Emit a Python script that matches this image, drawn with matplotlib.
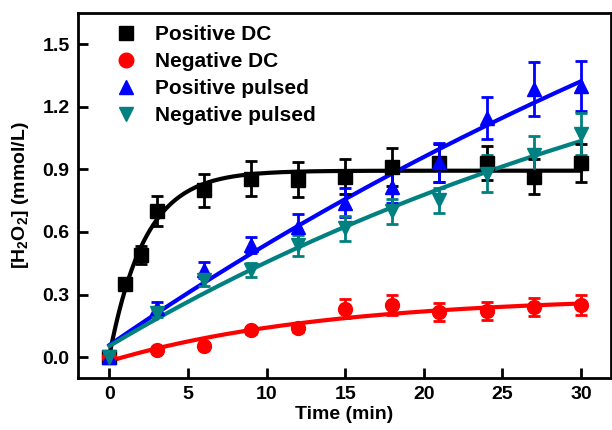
import numpy as np
import matplotlib
matplotlib.use('Agg')
import matplotlib.pyplot as plt
from matplotlib.lines import Line2D

plt.rcParams['font.family'] = ['Liberation Sans', 'DejaVu Sans']
plt.rcParams['font.weight'] = 'bold'
plt.rcParams['mathtext.fontset'] = 'custom'
plt.rcParams['mathtext.bf'] = 'Liberation Sans:bold'
plt.rcParams['mathtext.rm'] = 'Liberation Sans:bold'

# Data
# ------------------------------------------------------------------

t_dc_pos = [0, 1, 2, 3, 6, 9, 12, 15, 18, 21, 24, 27, 30]
pos_dc = [0.0, 0.35, 0.49, 0.70, 0.80, 0.855, 0.85, 0.865, 0.91, 0.93, 0.93, 0.865, 0.93]
pos_dc_err = [0.01, 0.02, 0.045, 0.07, 0.08, 0.085, 0.083, 0.085, 0.09, 0.09, 0.08, 0.085, 0.09]

t = [0, 3, 6, 9, 12, 15, 18, 21, 24, 27, 30]
neg_dc = [0.0, 0.035, 0.052, 0.128, 0.141, 0.233, 0.25, 0.216, 0.221, 0.24, 0.249]
neg_dc_err = [0.01, 0.01, 0.01, 0.015, 0.02, 0.045, 0.048, 0.045, 0.045, 0.045, 0.047]

pos_pul = [0.0, 0.234, 0.417, 0.537, 0.625, 0.74, 0.817, 0.933, 1.146, 1.286, 1.30]
pos_pul_err = [0.01, 0.03, 0.04, 0.04, 0.06, 0.07, 0.08, 0.095, 0.1, 0.128, 0.12]

neg_pul = [0.0, 0.21, 0.37, 0.417, 0.537, 0.617, 0.70, 0.753, 0.88, 0.97, 1.07]
neg_pul_err = [0.01, 0.02, 0.03, 0.035, 0.05, 0.06, 0.06, 0.06, 0.09, 0.09, 0.1]


def fit_exp(x, y):
    # y = c + a*(1 - exp(-k x)), grid search on k, least squares on a, c
    x = np.asarray(x, float)
    y = np.asarray(y, float)
    best = None
    for k in np.logspace(-3, 1, 2000):
        A = np.column_stack([np.ones_like(x), 1 - np.exp(-k * x)])
        coef, res, _, _ = np.linalg.lstsq(A, y, rcond=None)
        err = np.sum((A @ coef - y) ** 2)
        if best is None or err < best[0]:
            best = (err, k, coef)
    _, k, (c, a) = best
    return lambda xx: c + a * (1 - np.exp(-k * xx))


# Plot
# ------------------------------------------------------------------

fig = plt.figure(figsize=(6.12, 4.30), dpi=100)
ax = fig.add_axes([0.1275, 0.121, 0.8705, 0.849])

xs = np.linspace(0, 30, 300)
series = [
    (t_dc_pos, pos_dc, pos_dc_err, 'black', 's', 'Positive DC'),
    (t, neg_dc, neg_dc_err, 'red', 'o', 'Negative DC'),
    (t, pos_pul, pos_pul_err, 'blue', '^', 'Positive pulsed'),
    (t, neg_pul, neg_pul_err, '#008080', 'v', 'Negative pulsed'),
]

handles = []
for x, y, e, c, m, lab in series:
    ax.errorbar(x, y, yerr=e, fmt=m, color=c, ms=10, capsize=4,
                elinewidth=2, capthick=2, zorder=3)
    f = fit_exp(x, y)
    ax.plot(xs, f(xs), color=c, lw=3, zorder=2)
    handles.append(Line2D([], [], ls='none', marker=m, color=c, ms=10.5, label=lab))

ax.legend(handles=handles, loc='upper left', bbox_to_anchor=(0.039, 1.006),
          frameon=False, fontsize=15, handletextpad=0.8, labelspacing=0.38,
          borderaxespad=0.3, handlelength=1.2)

ax.set_xlim(-2, 31.9)
ax.set_ylim(-0.1, 1.65)
ax.set_xticks([0, 5, 10, 15, 20, 25, 30])
ax.set_yticks([0.0, 0.3, 0.6, 0.9, 1.2, 1.5])
ax.set_yticklabels(['0.0', '0.3', '0.6', '0.9', '1.2', '1.5'])
ax.tick_params(direction='in', length=7, width=2, labelsize=14, pad=6)
for s in ax.spines.values():
    s.set_linewidth(2)

ax.set_xlabel('Time (min)', fontsize=14, fontweight='bold', labelpad=2)
ax.set_ylabel(r'[H$_\mathbf{2}$O$_\mathbf{2}$] (mmol/L)', fontsize=14,
              fontweight='bold', labelpad=8)

plt.savefig('out.png', dpi=100)
